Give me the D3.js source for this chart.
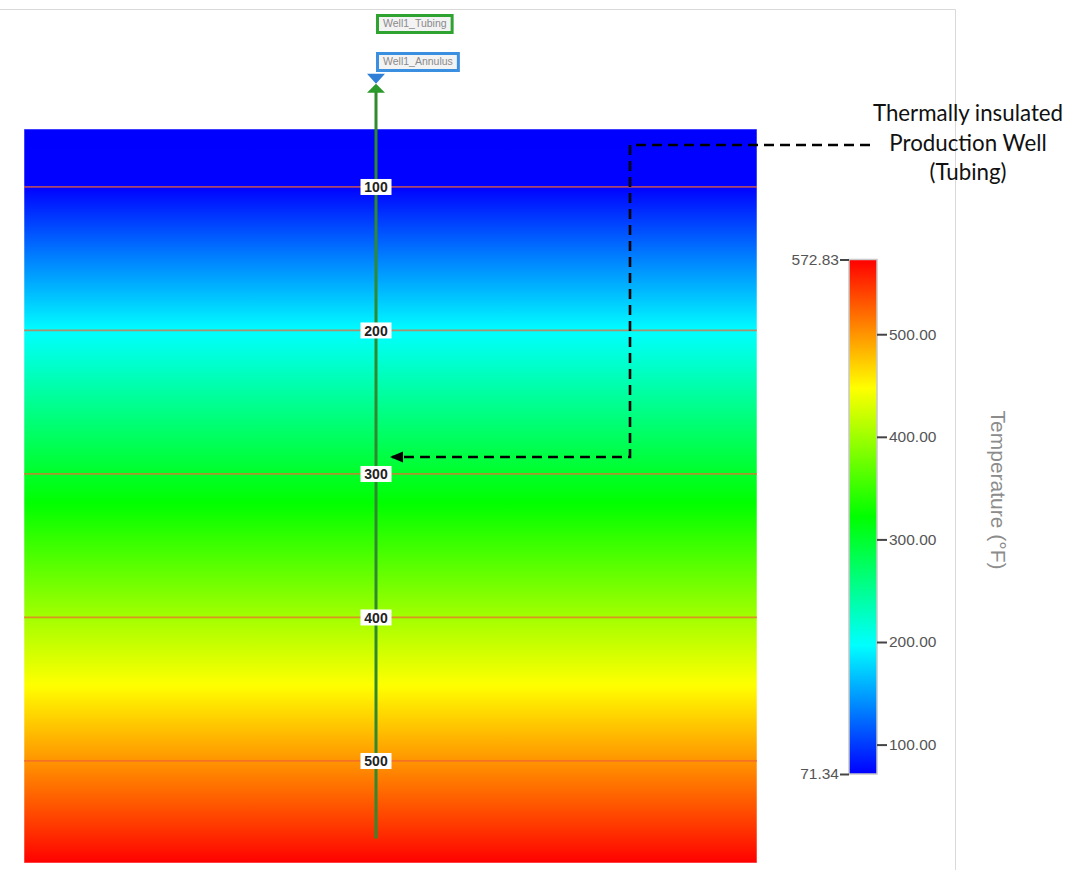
<!DOCTYPE html>
<html>
<head>
<meta charset="utf-8">
<script src="https://cdn.jsdelivr.net/npm/d3@7"></script>
<style>
  html, body { margin: 0; padding: 0; background: #fff; }
  svg { display: block; }
</style>
</head>
<body>
<svg id="chart" width="1067" height="870"></svg>
<script>
// Temperature profile along depth (ft) of the reservoir section
const depthSamples = [59.6, 100, 150, 200, 250, 300, 350, 400, 450, 500, 550, 571.1];
const tempSamples  = [71.34, 72, 135, 196, 250, 302, 352, 402, 450, 500, 550, 572.83];

// Depth grid lines / labels
const depthTicks = [100, 200, 300, 400, 500];

// Colour bar range and ticks (°F)
const tempRange = [71.34, 572.83];
const tempTicks = [100, 200, 300, 400, 500];
const tempEndLabels = ["71.34", "572.83"];

// Well trajectory (depth extent) and names
const wellDepths = [28, 554];
const wellNames = ["Well1_Tubing", "Well1_Annulus"];
const wellColors = ["#2fa32f", "#3b8fe0"];

const annotationLines = ["Thermally insulated", "Production Well", "(Tubing)"];

const svg = d3.select("#chart");

// Panel frame
svg.append("path")
  .attr("d", "M0,9.5 H955.5 V870")
  .attr("fill", "none").attr("stroke", "#d9d9d9").attr("stroke-width", 1);

// Scales
const y = d3.scaleLinear().domain([depthSamples[0], depthSamples[depthSamples.length - 1]]).range([129, 863]);
const x0 = 24, x1 = 757;
const tempAtDepth = d3.scaleLinear().domain(depthSamples).range(tempSamples).clamp(true);
const hueOf = d3.scaleLinear().domain(tempRange).range([240, 0]).clamp(true);
const colorOf = t => d3.hsl(hueOf(t), 1, 0.5).formatHex();

const defs = svg.append("defs");

// Vertical gradient for the reservoir section
const grad = defs.append("linearGradient").attr("id", "resGrad")
  .attr("x1", 0).attr("y1", 0).attr("x2", 0).attr("y2", 1);
const d0 = y.domain()[0], d1 = y.domain()[1];
d3.range(0, 201).forEach(i => {
  const d = d0 + (d1 - d0) * i / 200;
  grad.append("stop").attr("offset", (i / 200 * 100) + "%").attr("stop-color", colorOf(tempAtDepth(d)));
});

svg.append("rect")
  .attr("x", x0).attr("y", y(d0)).attr("width", x1 - x0).attr("height", y(d1) - y(d0))
  .attr("fill", "url(#resGrad)")
  .attr("stroke", "#ffffff").attr("stroke-opacity", 0.5).attr("stroke-width", 1);

// Depth grid lines
svg.append("g").selectAll("line").data(depthTicks).join("line")
  .attr("x1", x0).attr("x2", x1)
  .attr("y1", d => y(d)).attr("y2", d => y(d))
  .attr("stroke", "#f26432").attr("stroke-opacity", 0.7).attr("stroke-width", 1.7);

// Well
const wellX = 376;
svg.append("line")
  .attr("x1", wellX).attr("x2", wellX)
  .attr("y1", y(wellDepths[0]) + 6).attr("y2", y(wellDepths[1]))
  .attr("stroke", "#2f8a2f").attr("stroke-width", 3);

// Wellhead symbol
const hy = y(wellDepths[0]);
svg.append("path")
  .attr("d", `M${wellX - 9},${hy - 10} L${wellX + 9},${hy - 10} L${wellX},${hy} Z`)
  .attr("fill", "#2f7fd6");
svg.append("path")
  .attr("d", `M${wellX},${hy} L${wellX + 9},${hy + 9} L${wellX - 9},${hy + 9} Z`)
  .attr("fill", "#2a9a2a");

// Well name tags
const tagY = [14, 52];
wellNames.forEach((name, i) => {
  const g = svg.append("g");
  const t = g.append("text")
    .attr("x", wellX + 7).attr("y", tagY[i] + 10)
    .attr("dominant-baseline", "middle")
    .attr("font-family", "Liberation Sans, Arial, sans-serif")
    .attr("font-size", 10.5).attr("fill", "#8a8a8a")
    .text(name);
  const w = t.node().getComputedTextLength();
  g.insert("rect", "text")
    .attr("x", wellX + 1.5).attr("y", tagY[i] + 1.5)
    .attr("width", w + 11).attr("height", 17)
    .attr("fill", "#f3f3f3").attr("stroke", wellColors[i]).attr("stroke-width", 3);
});

// Depth labels on the well
const lbl = svg.append("g").selectAll("g").data(depthTicks).join("g")
  .attr("transform", d => `translate(${wellX},${y(d)})`);
lbl.append("rect").attr("x", -15.5).attr("y", -8).attr("width", 31).attr("height", 16)
  .attr("fill", "#ffffff");
lbl.append("text").attr("text-anchor", "middle").attr("dy", "0.36em")
  .attr("font-family", "Liberation Sans, Arial, sans-serif")
  .attr("font-weight", "bold").attr("font-size", 14).attr("fill", "#222")
  .text(d => d);

// Colour bar
const cb = { x: 849, w: 28, top: 259.5, bottom: 774 };
const cy = d3.scaleLinear().domain(tempRange).range([cb.bottom, cb.top]);
const cbGrad = defs.append("linearGradient").attr("id", "cbGrad")
  .attr("x1", 0).attr("y1", 1).attr("x2", 0).attr("y2", 0);
d3.range(0, 61).forEach(i => {
  const t = tempRange[0] + (tempRange[1] - tempRange[0]) * i / 60;
  cbGrad.append("stop").attr("offset", (i / 60 * 100) + "%").attr("stop-color", colorOf(t));
});
svg.append("rect")
  .attr("x", cb.x).attr("y", cb.top).attr("width", cb.w).attr("height", cb.bottom - cb.top)
  .attr("fill", "url(#cbGrad)").attr("stroke", "#c8c8c8").attr("stroke-width", 1.5);

const axisR = d3.axisRight(cy).tickValues(tempTicks).tickFormat(d3.format(".2f"))
  .tickSize(10).tickSizeOuter(0).tickPadding(2);
const gR = svg.append("g").attr("transform", `translate(${cb.x + cb.w},0)`).call(axisR);
gR.select(".domain").remove();
gR.selectAll(".tick line").attr("stroke", "#444").attr("stroke-width", 2);
gR.selectAll(".tick text").attr("fill", "#555")
  .attr("font-family", "Liberation Sans, Arial, sans-serif").attr("font-size", 15.5);

const axisL = d3.axisLeft(cy).tickValues(tempRange)
  .tickFormat((d, i) => tempEndLabels[i]).tickSize(9).tickSizeOuter(0).tickPadding(1);
const gL = svg.append("g").attr("transform", `translate(${cb.x},0)`).call(axisL);
gL.select(".domain").remove();
gL.selectAll(".tick line").attr("stroke", "#444").attr("stroke-width", 2);
gL.selectAll(".tick text").attr("fill", "#555")
  .attr("font-family", "Liberation Sans, Arial, sans-serif").attr("font-size", 15.5);

svg.append("text")
  .attr("transform", "translate(991,490) rotate(90)")
  .attr("text-anchor", "middle")
  .attr("font-family", "Liberation Sans, Arial, sans-serif")
  .attr("font-size", 21).attr("fill", "#8c8c8c")
  .text("Temperature (°F)");

// Annotation callout
svg.append("path")
  .attr("d", "M870,145 H630 V457 H392")
  .attr("fill", "none").attr("stroke", "#000").attr("stroke-width", 2.6)
  .attr("stroke-dasharray", "10,6");
svg.append("path")
  .attr("d", "M390,457 L403,451.5 L403,462.5 Z").attr("fill", "#000");

svg.append("g").selectAll("text").data(annotationLines).join("text")
  .attr("x", 968).attr("y", (d, i) => 121 + i * 29.5)
  .attr("text-anchor", "middle")
  .attr("font-family", "Lato, Carlito, sans-serif")
  .attr("font-size", 22.3).attr("fill", "#111")
  .text(d => d);
</script>
</body>
</html>
